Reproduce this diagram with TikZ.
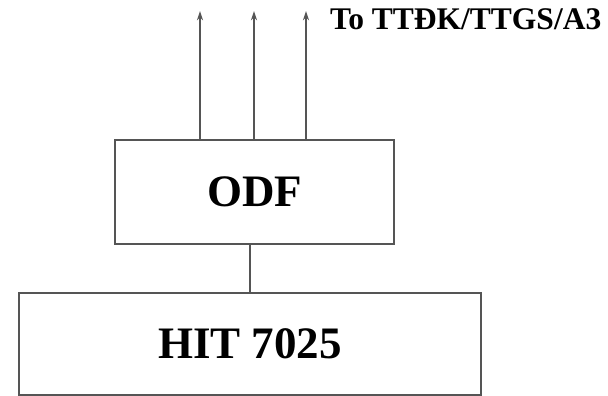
\documentclass[tikz,border=0pt]{standalone}
\usepackage{fontspec}
\setmainfont{Liberation Serif}
\usetikzlibrary{arrows.meta,calc,positioning}
\definecolor{linegray}{RGB}{85,85,85}

\begin{document}
\begin{tikzpicture}[x=1pt,y=1pt,>={Stealth[length=9pt,width=6pt]},
  box/.style={draw=linegray,line width=1.6pt,minimum width=#1,inner sep=0pt},
  link/.style={draw=linegray,line width=1.6pt}]
\useasboundingbox (0,0) rectangle (608,396);
\node[box=462pt,minimum height=102pt,font=\fontsize{45}{54}\selectfont\bfseries] (hit) at (250,52) {HIT 7025};
\node[box=279pt,minimum height=104pt,font=\fontsize{45}{54}\selectfont\bfseries] (odf) at (254.5,204) {ODF};
\draw[link] (hit.north) -- (hit.north |- odf.south);
\coordinate (o1) at ($(odf.north)+(-54.5,128)$);
\coordinate (o2) at ($(odf.north)+(-0.5,128)$);
\coordinate (o3) at ($(odf.north)+(51.5,128)$);
\draw[link,->] (o1 |- odf.north) -- (o1);
\draw[link,->] (o2 |- odf.north) -- (o2);
\draw[link,->] (o3 |- odf.north) -- (o3);
\node[anchor=base west,inner sep=0pt,font=\fontsize{31.5}{38}\selectfont\bfseries] (dest) at (330,366) {To TTĐK/TTGS/A3};
\end{tikzpicture}
\end{document}
